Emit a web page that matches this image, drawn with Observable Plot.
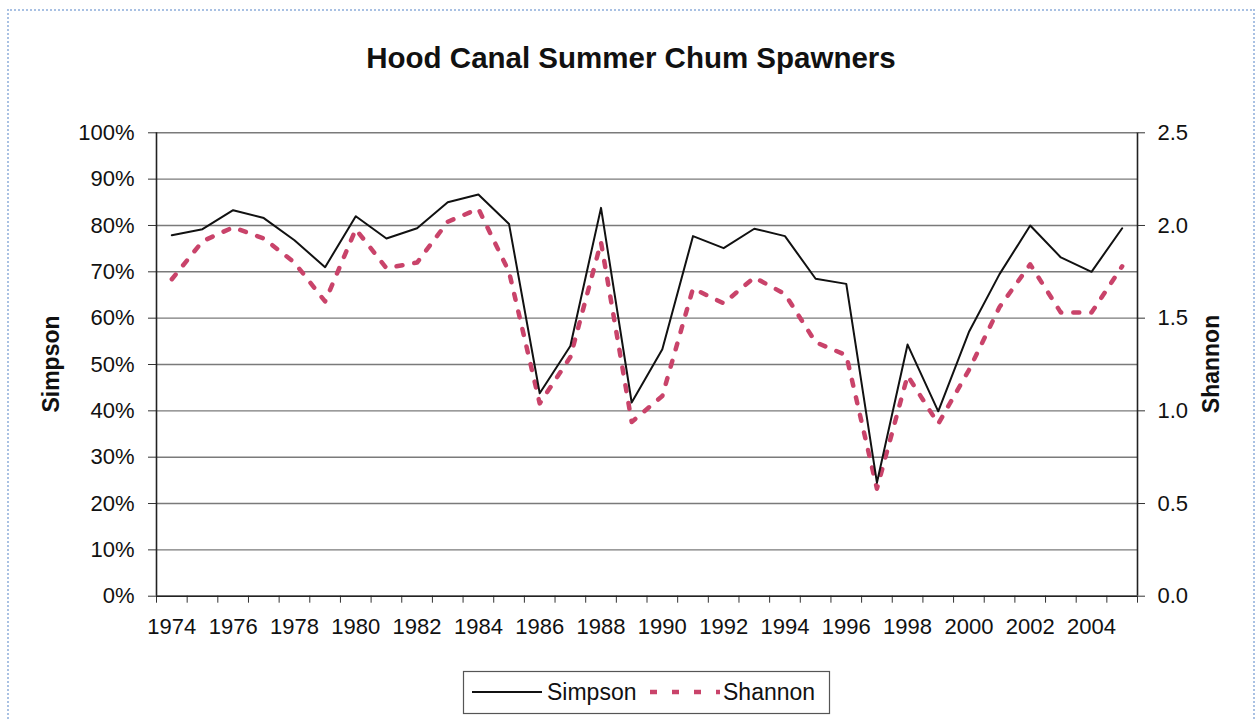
<!DOCTYPE html>
<html>
<head>
<meta charset="utf-8">
<script src="https://cdn.jsdelivr.net/npm/d3@7"></script>
<script src="https://cdn.jsdelivr.net/npm/@observablehq/plot@0.6"></script>
<style>
  html, body { margin: 0; padding: 0; background: #fff; }
  #wrap { position: relative; width: 1259px; height: 719px; overflow: hidden; font-family: "Liberation Sans", Arial, sans-serif; color: #111; }
  #frame { position: absolute; left: 7px; top: 9px; width: 1248px; height: 730px; border: 2px dotted #a9c1e3; box-sizing: border-box; }
  #chart { position: absolute; left: 0; top: 0; }
  #title { position: absolute; left: 0; width: 1262px; top: 43px; text-align: center; font-weight: bold; font-size: 29.5px; line-height: 29.5px; }
  .ytitle { position: absolute; font-weight: bold; font-size: 23px; white-space: nowrap; transform: translate(-50%, -50%) rotate(-90deg); }
  #legend { position: absolute; left: 0; top: 0; }
</style>
</head>
<body>
<div id="wrap">
  <div id="frame"></div>
  <div id="chart"></div>
  <div id="title">Hood Canal Summer Chum Spawners</div>
  <div class="ytitle" style="left:51px; top:364px;">Simpson</div>
  <div class="ytitle" style="left:1211px; top:364px;">Shannon</div>
  <svg id="legend" width="1259" height="719"></svg>
</div>
<script>
// ---- data ----
const years = d3.range(1974, 2006);
const simpson = [77.9, 79.2, 83.3, 81.6, 76.8, 71.0, 82.0, 77.2, 79.4, 85.0, 86.7, 80.3,
                 43.8, 54.0, 83.8, 41.8, 53.3, 77.7, 75.1, 79.3, 77.7, 68.5, 67.4, 24.5,
                 54.3, 39.9, 57.0, 69.5, 80.0, 73.1, 70.0, 79.4];
const shannon = [1.71, 1.915, 1.99, 1.93, 1.80, 1.59, 1.98, 1.77, 1.80, 2.02, 2.09, 1.75,
                 1.04, 1.29, 1.91, 0.94, 1.08, 1.66, 1.58, 1.72, 1.63, 1.37, 1.30, 0.58,
                 1.19, 0.93, 1.22, 1.56, 1.79, 1.53, 1.53, 1.78];
const leftTicks = d3.range(0, 101, 10);          // Simpson %
const rightTickValues = [0, 0.5, 1.0, 1.5, 2.0, 2.5]; // Shannon
const xLabelYears = d3.range(1974, 2005, 2);
const seriesNames = ["Simpson", "Shannon"];

const SHANNON_MAX = 2.5;
const data = years.map((y, i) => ({year: y, simpson: simpson[i], shannon: shannon[i]}));
const toLeft = v => v / SHANNON_MAX * 100;

const redColor = "#c9436a";

const chart = Plot.plot({
  width: 1259,
  height: 719,
  marginLeft: 156,
  marginRight: 122,
  marginTop: 132.3,
  marginBottom: 123.3,
  style: {fontFamily: "'Liberation Sans', Arial, sans-serif", fontSize: "22px", color: "#111", background: "transparent"},
  x: {type: "linear", domain: [years[0] - 0.5, years[years.length - 1] + 0.5]},
  y: {domain: [0, 100]},
  marks: [
    Plot.gridY(leftTicks, {stroke: "#7a7a7a", strokeOpacity: 1, strokeWidth: 1.4}),
    Plot.axisY({ticks: leftTicks, tickFormat: d => d + "%", tickSize: 8, tickPadding: 14, label: null, stroke: "#333"}),
    Plot.axisY({anchor: "right", ticks: rightTickValues.map(toLeft), tickFormat: d => (d / 100 * SHANNON_MAX).toFixed(1), tickSize: 7, tickPadding: 13, label: null, stroke: "#333"}),
    Plot.axisX({ticks: d3.range(years[0] - 0.5, years[years.length - 1] + 1, 1), tickFormat: () => "", tickSize: 7, label: null, stroke: "#333"}),
    Plot.axisX({ticks: xLabelYears, tickFormat: d => String(d), tickSize: 0, tickPadding: 22, label: null}),
    Plot.ruleX([years[0] - 0.5, years[years.length - 1] + 0.5], {stroke: "#222", strokeWidth: 1.6}),
    Plot.ruleY([0], {stroke: "#222", strokeWidth: 1.6}),
    Plot.line(data, {x: "year", y: d => toLeft(d.shannon), stroke: redColor, strokeWidth: 4.5, strokeDasharray: "6,12"}),
    Plot.line(data, {x: "year", y: "simpson", stroke: "#111", strokeWidth: 2})
  ]
});
document.getElementById("chart").appendChild(chart);

// ---- legend ----
const lg = d3.select("#legend");
lg.append("rect").attr("x", 463.5).attr("y", 671.5).attr("width", 366).attr("height", 42)
  .attr("fill", "#fff").attr("stroke", "#555").attr("stroke-width", 1.2);
lg.append("line").attr("x1", 472).attr("x2", 542).attr("y1", 692).attr("y2", 692)
  .attr("stroke", "#111").attr("stroke-width", 2);
lg.append("text").attr("x", 547).attr("y", 700).text(seriesNames[0])
  .attr("font-family", "'Liberation Sans', Arial, sans-serif").attr("font-size", 23).attr("fill", "#111");
lg.append("line").attr("x1", 650).attr("x2", 720).attr("y1", 692).attr("y2", 692)
  .attr("stroke", redColor).attr("stroke-width", 4.5).attr("stroke-dasharray", "7,15");
lg.append("text").attr("x", 723).attr("y", 700).text(seriesNames[1])
  .attr("font-family", "'Liberation Sans', Arial, sans-serif").attr("font-size", 23).attr("fill", "#111");
</script>
</body>
</html>
